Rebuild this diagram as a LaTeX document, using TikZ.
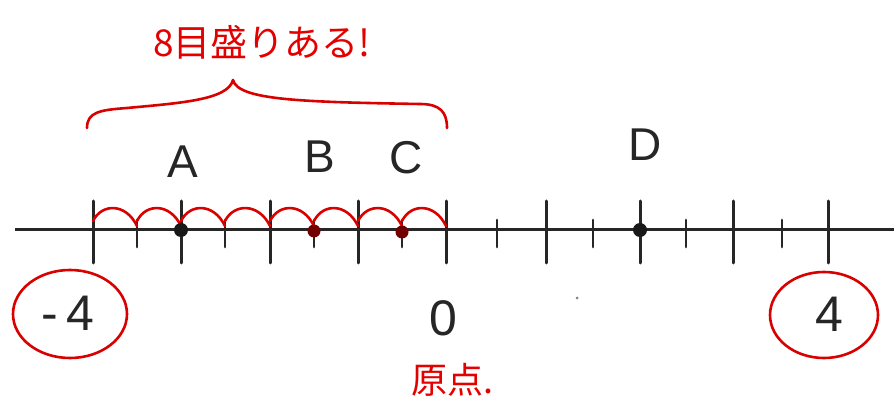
\documentclass[tikz,border=0pt]{standalone}
\usepackage{fontspec}
\setmainfont{Liberation Sans}
\newfontfamily\jpfont{Noto Sans CJK JP}
\begin{document}
\begin{tikzpicture}[x=1pt,y=-1pt,
  axisline/.style={line width=3pt,black!85},
  majtick/.style={line width=3pt,black!85,line cap=round},
  mintick/.style={line width=2.8pt,black!85,line cap=round},
  redline/.style={line width=2.6pt,red!85!black,line cap=round,line join=round},
  lbl/.style={font=\fontsize{46}{50}\selectfont,text=black!85,inner sep=0pt},
  num/.style={font=\fontsize{50}{54}\selectfont,text=black!85,inner sep=0pt},
  jp/.style={font=\jpfont\fontsize{37}{40}\selectfont,text=red!90!black,inner sep=0pt},
  ring/.style={draw=red!85!black,line width=2.6pt},
  dotb/.style={circle,fill=black!90,inner sep=0pt,minimum size=14pt},
  dotr/.style={circle,fill=red!45!black,inner sep=0pt,minimum size=13pt}]
\useasboundingbox (0,0) rectangle (894,403);
\fill[white] (0,0) rectangle (894,403);
% axis
\coordinate (L) at (15,230);
\coordinate (R) at (894,230);
\draw[axisline] (L) -- (R);
% tick positions
\foreach \n/\x in {t0/93,t1/137,t2/181,t3/225,t4/270,t5/314,t6/358,t7/402,t8/446,t9/497,t10/546,t11/593,t12/640,t13/686,t14/733,t15/782,t16/828}
  \coordinate (\n) at (\x,230);
\foreach \n in {t0,t2,t4,t6,t8,t10,t12,t14,t16}
  \draw[majtick] ([yshift=29pt]\n) -- ([yshift=-33pt]\n);
\foreach \n in {t1,t3,t5,t7,t9,t11,t13,t15}
  \draw[mintick] ([yshift=10pt]\n) -- ([yshift=-17pt]\n);
% red arcs
\foreach \a/\b in {t0/t1,t1/t2,t2/t3,t3/t4,t4/t5,t5/t6,t6/t7,t7/t8}
  \draw[redline] ([yshift=9pt]\a) .. controls ([xshift=9pt,yshift=27pt]\a) and ([xshift=-11pt,yshift=27pt]\b) .. ([yshift=4pt]\b);
% dots
\node[dotb] (dA) at (181,230) {};
\node[dotr] (dB) at (314,231) {};
\node[dotr] (dC) at (402,232) {};
\node[dotb] (dD) at (640,230) {};
% letters
\node[lbl] (A) at (183,162) {A};
\node[lbl] (B) at (320,157) {B};
\node[lbl] (C) at (406,158) {C};
\node[lbl] (D) at (645,145) {D};
% brace
\draw[redline] (87,128) .. controls (87,112) and (100,110) .. (127,108) .. controls (180,103) and (228,100) .. (233,80) .. controls (238,100) and (300,102) .. (420,104) .. controls (440,104) and (447,112) .. (447,128);
\node[jp] (title) at (262,42) {8目盛りある!};
% numbers
\node[num] (m4) at (68,313) {-\,4};
\draw[ring] (70,314) ellipse [x radius=57, y radius=44];
\node[num] (zero) at (443,318) {0};
\node[jp,font=\jpfont\fontsize{36}{40}\selectfont] (orig) at (452,380) {原点.};
\node[num] (p4) at (829,314) {4};
\draw[ring] (824,315) ellipse [x radius=54, y radius=43];
\fill[black!50] (577,298) circle (1.5pt);
\end{tikzpicture}
\end{document}
